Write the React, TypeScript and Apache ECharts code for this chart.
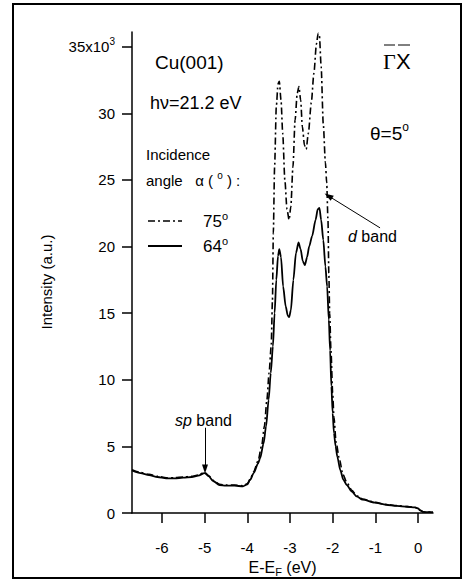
import React, { useEffect, useRef } from "react";
import * as echarts from "echarts";

// Binding energy E-EF (eV) and intensity (x10^3 counts) for incidence angle 64° (solid)
const energy64 = [
  -6.7, -6.5, -6.3, -6.1, -5.9, -5.7, -5.5, -5.3, -5.15, -5.0, -4.9, -4.8, -4.65, -4.5, -4.3, -4.1, -4.0,
  -3.93, -3.85, -3.75, -3.7, -3.62, -3.56, -3.5, -3.45, -3.4, -3.36, -3.32, -3.28, -3.25, -3.21, -3.16,
  -3.1, -3.05, -3.02, -2.98, -2.92, -2.86, -2.8, -2.75, -2.7, -2.65, -2.6, -2.55, -2.48, -2.4, -2.35,
  -2.31, -2.27, -2.22, -2.17, -2.13, -2.09, -2.06, -2.03, -2.0, -1.97, -1.93, -1.89, -1.82, -1.75,
  -1.67, -1.55, -1.44, -1.3, -1.01, -0.75, -0.5, -0.25, -0.08, 0.0, 0.05, 0.12, 0.2, 0.35,
];
const intensity64 = [
  3.2, 3.0, 2.85, 2.7, 2.6, 2.6, 2.65, 2.7, 2.8, 3.0, 2.75, 2.4, 2.1, 2.05, 2.05, 2.0, 2.15,
  2.5, 3.0, 3.7, 4.1, 5.2, 6.5, 8.5, 10.5, 12.5, 15.0, 17.5, 19.3, 19.8, 19.2, 17.0,
  15.5, 14.8, 14.7, 15.2, 17.5, 19.5, 20.3, 19.8, 18.9, 18.6, 19.2, 20.0, 20.8, 22.0, 22.8,
  22.9, 22.0, 20.5, 18.5, 17.0, 14.5, 12.2, 9.5, 7.5, 6.0, 5.0, 4.2, 3.2, 2.5,
  2.1, 1.6, 1.25, 1.0, 0.78, 0.62, 0.53, 0.47, 0.42, 0.35, 0.2, 0.08, 0.06, 0.06,
];

// Incidence angle 75° (dash-dot)
const energy75 = [
  -6.7, -6.5, -6.3, -6.1, -5.9, -5.7, -5.5, -5.3, -5.15, -5.0, -4.9, -4.8, -4.65, -4.5, -4.3, -4.1, -4.0,
  -3.93, -3.85, -3.75, -3.66, -3.6, -3.54, -3.49, -3.44, -3.41, -3.39, -3.36, -3.32, -3.28, -3.25, -3.21,
  -3.17, -3.12, -3.07, -3.02, -2.98, -2.93, -2.88, -2.83, -2.79, -2.75, -2.71, -2.66, -2.62, -2.57, -2.5,
  -2.44, -2.38, -2.34, -2.31, -2.27, -2.22, -2.17, -2.14, -2.11, -2.09, -2.07, -2.04, -2.0, -1.97,
  -1.92, -1.84, -1.76, -1.67, -1.55, -1.44, -1.3, -1.01, -0.75, -0.5, -0.25, -0.08, 0.0, 0.05, 0.12,
  0.2, 0.35,
];
const intensity75 = [
  3.25, 3.05, 2.9, 2.75, 2.65, 2.65, 2.7, 2.75, 2.85, 3.05, 2.8, 2.45, 2.15, 2.1, 2.1, 2.05, 2.2,
  2.55, 3.1, 3.9, 5.1, 6.5, 8.5, 10.5, 12.5, 16.0, 21.0, 26.0, 30.5, 32.2, 32.4, 31.0,
  28.5, 25.0, 22.8, 22.0, 23.0, 26.0, 29.5, 31.5, 32.0, 31.0, 29.0, 27.6, 27.3, 28.5, 30.8,
  33.0, 35.2, 36.0, 35.8, 33.5, 29.2, 26.3, 24.8, 22.0, 18.0, 15.0, 12.2, 9.0, 7.2,
  5.3, 4.0, 2.9, 2.3, 1.7, 1.3, 1.05, 0.8, 0.64, 0.55, 0.48, 0.43, 0.36, 0.21, 0.09,
  0.07, 0.07,
];

const xTicks = [-6, -5, -4, -3, -2, -1, 0];
const yTicks = [0, 5, 10, 15, 20, 25, 30, 35];

// annotation arrows [fromE, fromI, toE, toI]
const dBandArrow = [-0.89, 21.4, -2.1, 23.8];
const spBandArrow = [-4.99, 6.4, -4.99, 3.3];

const FONT = "'Liberation Sans', Arial, Helvetica, sans-serif";
const DASHDOT = [7, 3, 2, 3];

export default function App() {
  const ref = useRef<HTMLDivElement>(null);
  useEffect(() => {
    document.body.style.margin = "0";
    const chart = echarts.init(ref.current!, undefined, { renderer: "svg" });
    const txt = (x: number, y: number, text: string, size: number, extra: any = {}) => ({
      type: "text",
      x,
      y,
      style: {
        text,
        font: `${size}px ${FONT}`,
        fill: "#000",
        verticalAlign: "middle",
        align: "left",
        ...extra,
      },
    });
    chart.setOption({
      animation: false,
      backgroundColor: "#fff",
      grid: { left: 132, right: 41, top: 32, bottom: 74 },
      xAxis: {
        type: "value",
        min: -6.7,
        max: 0.35,
        splitLine: { show: false },
        axisLine: { onZero: false, lineStyle: { color: "#000", width: 1.5 } },
        axisTick: { length: 10, lineStyle: { color: "#000", width: 1.5 }, customValues: xTicks },
        axisLabel: { customValues: xTicks, color: "#000", fontSize: 15, fontFamily: FONT, margin: 27 },
        name: "E-E{sub|F} (eV)",
        nameLocation: "middle",
        nameGap: 44,
        nameTextStyle: {
          color: "#000",
          fontSize: 16,
          fontFamily: FONT,
          rich: { sub: { fontSize: 11, fontFamily: FONT, color: "#000", verticalAlign: "bottom", padding: [8, 0, 0, 0] } },
        },
      },
      yAxis: {
        type: "value",
        min: 0,
        max: 36.1,
        splitLine: { show: false },
        axisLine: { show: true, onZero: false, lineStyle: { color: "#000", width: 1.5 } },
        axisTick: { show: true, length: 10, lineStyle: { color: "#000", width: 1.5 }, customValues: yTicks },
        axisLabel: {
          customValues: yTicks,
          color: "#000",
          fontSize: 15,
          fontFamily: FONT,
          margin: 17,
          formatter: (v: number) => (v === 35 ? "35x10{sup|3}" : String(v)),
          rich: { sup: { fontSize: 10, fontFamily: FONT, color: "#000", padding: [0, 0, 10, 0] } },
        },
      },
      series: [
        {
          name: "75°",
          type: "line",
          data: energy75.map((e, i) => [e, intensity75[i]]),
          showSymbol: false,
          smooth: 0.25,
          smoothMonotone: "x",
          lineStyle: { color: "#000", width: 1.6, type: DASHDOT },
          z: 2,
        },
        {
          name: "64°",
          type: "line",
          data: energy64.map((e, i) => [e, intensity64[i]]),
          showSymbol: false,
          smooth: 0.25,
          smoothMonotone: "x",
          lineStyle: { color: "#000", width: 1.8 },
          z: 3,
          markLine: {
            silent: true,
            symbol: ["none", "triangle"],
            symbolSize: [6, 9],
            precision: 4,
            label: { show: false },
            itemStyle: { color: "#000" },
            lineStyle: { color: "#000", width: 1, type: "solid" },
            data: [
              [{ coord: [dBandArrow[0], dBandArrow[1]] }, { coord: [dBandArrow[2], dBandArrow[3]] }],
              [{ coord: [spBandArrow[0], spBandArrow[1]] }, { coord: [spBandArrow[2], spBandArrow[3]] }],
            ],
          },
        },
      ],
      graphic: [
        {
          type: "rect",
          shape: { x: 13, y: 4, width: 448, height: 574 },
          style: { fill: "none", stroke: "#000", lineWidth: 2 },
          silent: true,
        },
        {
          type: "text",
          x: 46,
          y: 282,
          rotation: Math.PI / 2,
          style: { text: "Intensity (a.u.)", font: `15px ${FONT}`, fill: "#000", align: "center", verticalAlign: "middle" },
        },
        txt(155, 62, "Cu(001)", 19),
        txt(150, 103, "hν=21.2 eV", 18),
        txt(146, 154, "Incidence", 15),
        {
          type: "text",
          x: 146,
          y: 180,
          style: {
            text: "angle   α ( {s|o} ) :",
            font: `15px ${FONT}`,
            fill: "#000",
            verticalAlign: "middle",
            rich: { s: { fontSize: 10, fontFamily: FONT, padding: [0, 0, 10, 0] } },
          },
        },
        {
          type: "line",
          shape: { x1: 148, y1: 221, x2: 182, y2: 221 },
          style: { stroke: "#000", lineWidth: 1.5, lineDash: DASHDOT },
        },
        {
          type: "line",
          shape: { x1: 148, y1: 246, x2: 182, y2: 246 },
          style: { stroke: "#000", lineWidth: 1.8 },
        },
        {
          type: "text",
          x: 203,
          y: 221,
          style: {
            text: "75{s|o}",
            font: `17px ${FONT}`,
            fill: "#000",
            verticalAlign: "middle",
            rich: { s: { fontSize: 11, fontFamily: FONT, padding: [0, 0, 11, 0] } },
          },
        },
        {
          type: "text",
          x: 203,
          y: 246,
          style: {
            text: "64{s|o}",
            font: `17px ${FONT}`,
            fill: "#000",
            verticalAlign: "middle",
            rich: { s: { fontSize: 11, fontFamily: FONT, padding: [0, 0, 11, 0] } },
          },
        },
        {
          type: "text",
          x: 383,
          y: 61,
          style: { text: "Γ", font: `22px 'Liberation Serif', 'Times New Roman', serif`, fill: "#000", verticalAlign: "middle" },
        },
        txt(396, 61, "X", 22),
        { type: "line", shape: { x1: 384, y1: 45, x2: 395, y2: 45 }, style: { stroke: "#000", lineWidth: 1 } },
        { type: "line", shape: { x1: 398, y1: 45, x2: 410, y2: 45 }, style: { stroke: "#000", lineWidth: 1 } },
        {
          type: "text",
          x: 370,
          y: 133,
          style: {
            text: "θ=5{s|o}",
            font: `19px ${FONT}`,
            fill: "#000",
            verticalAlign: "middle",
            rich: { s: { fontSize: 12, fontFamily: FONT, padding: [0, 0, 12, 0] } },
          },
        },
        {
          type: "text",
          x: 348,
          y: 236,
          style: {
            text: "{i|d} band",
            font: `16px ${FONT}`,
            fill: "#000",
            verticalAlign: "middle",
            rich: { i: { fontSize: 16, fontFamily: FONT, fontStyle: "italic" } },
          },
        },
        {
          type: "text",
          x: 175,
          y: 420,
          style: {
            text: "{i|sp} band",
            font: `16px ${FONT}`,
            fill: "#000",
            verticalAlign: "middle",
            rich: { i: { fontSize: 16, fontFamily: FONT, fontStyle: "italic" } },
          },
        },
      ],
    });
    return () => chart.dispose();
  }, []);
  return <div ref={ref} style={{ position: "fixed", left: 0, top: 0, width: 474, height: 587 }} />;
}
